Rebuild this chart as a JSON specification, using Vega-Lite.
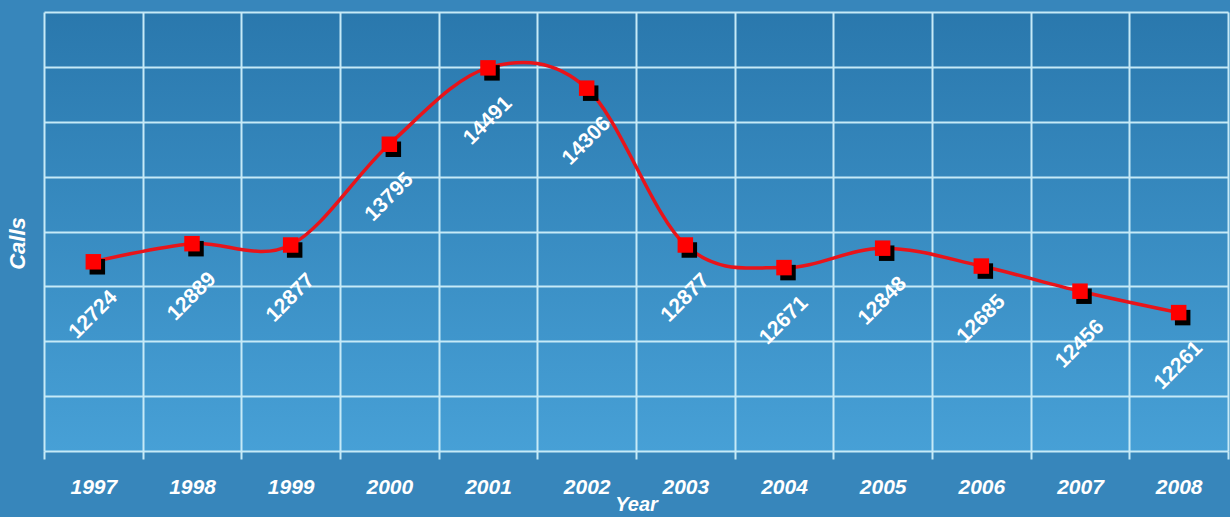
{
  "$schema": "https://vega.github.io/schema/vega-lite/v6.json",
  "width": 1184,
  "height": 439,
  "autosize": {"type": "none"},
  "padding": {"left": 44, "top": 12, "right": 2, "bottom": 66},
  "background": "#3786bb",
  "config": {
    "view": {
      "stroke": null,
      "fill": {
        "gradient": "linear",
        "x1": 0, "y1": 0, "x2": 0, "y2": 1,
        "stops": [
          {"offset": 0, "color": "#2a78ad"},
          {"offset": 1, "color": "#47a0d6"}
        ]
      }
    },
    "font": "Liberation Sans"
  },
  "data": {
    "values": [
      {"Year": "1997", "Calls": 12724},
      {"Year": "1998", "Calls": 12889},
      {"Year": "1999", "Calls": 12877},
      {"Year": "2000", "Calls": 13795},
      {"Year": "2001", "Calls": 14491},
      {"Year": "2002", "Calls": 14306},
      {"Year": "2003", "Calls": 12877},
      {"Year": "2004", "Calls": 12671},
      {"Year": "2005", "Calls": 12848},
      {"Year": "2006", "Calls": 12685},
      {"Year": "2007", "Calls": 12456},
      {"Year": "2008", "Calls": 12261}
    ]
  },
  "encoding": {
    "x": {
      "field": "Year",
      "type": "ordinal",
      "scale": {"type": "band", "paddingInner": 0, "paddingOuter": 0},
      "axis": {
        "title": "Year",
        "labelAngle": 0,
        "tickBand": "extent",
        "grid": true,
        "gridColor": "#c6eaf7",
        "gridWidth": 2,
        "gridOpacity": 1,
        "ticks": true,
        "tickColor": "#c6eaf7",
        "tickWidth": 2,
        "tickSize": 8,
        "domain": false,
        "labelColor": "#ffffff",
        "labelFont": "Liberation Sans",
        "labelFontSize": 21,
        "labelFontWeight": "bold",
        "labelFontStyle": "italic",
        "labelPadding": 17,
        "titleColor": "#ffffff",
        "titleFont": "Liberation Sans",
        "titleFontSize": 20,
        "titleFontWeight": "bold",
        "titleFontStyle": "italic",
        "titlePadding": -3
      }
    },
    "y": {
      "field": "Calls",
      "type": "quantitative",
      "scale": {"domain": [11000, 15000], "nice": false, "zero": false},
      "axis": {
        "title": "Calls",
        "values": [11000, 11500, 12000, 12500, 13000, 13500, 14000, 14500, 15000],
        "labels": false,
        "ticks": false,
        "domain": false,
        "grid": true,
        "gridColor": "#c6eaf7",
        "gridWidth": 2,
        "gridOpacity": 1,
        "titleColor": "#ffffff",
        "titleFont": "Liberation Sans",
        "titleFontSize": 22,
        "titleFontWeight": "bold",
        "titleFontStyle": "italic",
        "titlePadding": 15,
        "titleY": 231
      }
    }
  },
  "layer": [
    {
      "mark": {"type": "line", "interpolate": "cardinal", "color": "#e8141a", "strokeWidth": 3.5}
    },
    {
      "mark": {"type": "square", "filled": true, "color": "#000000", "size": 240, "opacity": 1, "xOffset": 4, "yOffset": 5}
    },
    {
      "mark": {"type": "square", "filled": true, "color": "#ff0000", "size": 240, "opacity": 1}
    },
    {
      "mark": {
        "type": "text",
        "angle": -45,
        "align": "center",
        "baseline": "middle",
        "yOffset": 53,
        "color": "#ffffff",
        "font": "Liberation Sans",
        "fontSize": 21,
        "fontWeight": "bold"
      },
      "encoding": {"text": {"field": "Calls", "type": "quantitative", "format": "d"}}
    }
  ]
}
